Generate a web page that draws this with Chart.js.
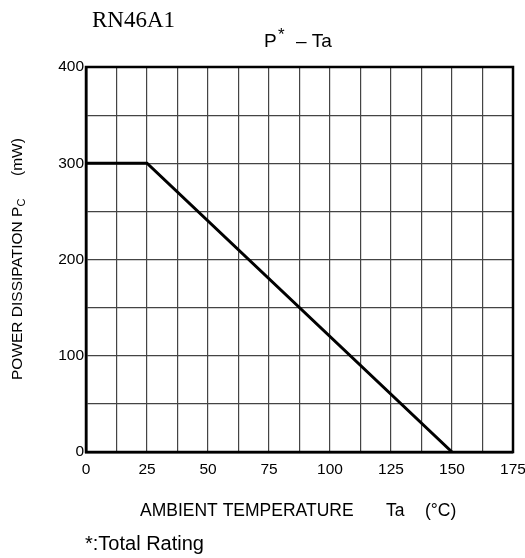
<!DOCTYPE html>
<html>
<head>
<meta charset="utf-8">
<script src="https://cdn.jsdelivr.net/npm/chart.js@4.4.1/dist/chart.umd.min.js"></script>
<style>
  html, body { margin: 0; padding: 0; background: #fff; }
  #wrap { width: 525px; height: 558px; }
</style>
</head>
<body>
<div id="wrap"><canvas id="pcChart" width="525" height="558"></canvas></div>
<script>
// --- Data (Ta in degC, Pc in mW) ---
const tempPoints = [0, 25, 150];
const powerPoints = [300, 300, 0];
const xTickLabels = [0, 25, 50, 75, 100, 125, 150, 175];
const yTickLabels = [0, 100, 200, 300, 400];

const sans = '"Liberation Sans", Arial, sans-serif';
const serif = '"Liberation Serif", "Times New Roman", serif';

// --- Teks & bingkai ---
const textPlugin = {
    id: 'textPlugin',
    afterDraw(chart) {
        const ctx = chart.ctx;
        const a = chart.chartArea;
        ctx.save();

        // bingkai tebal
        ctx.strokeStyle = '#000';
        ctx.lineWidth = 2.5;
        ctx.strokeRect(a.left, a.top, a.right - a.left, a.bottom - a.top);

        ctx.fillStyle = '#000';
        ctx.textBaseline = 'middle';
        ctx.textAlign = 'left';

        // nama part
        ctx.font = '23px ' + serif;
        ctx.fillText('RN46A1', 92, 21);

        // judul P* - Ta
        ctx.font = '19px ' + sans;
        ctx.fillText('P', 264, 42);
        ctx.font = '17px ' + sans;
        ctx.fillText('*', 278, 35);
        ctx.font = '19px ' + sans;
        ctx.fillText('\u2013 Ta', 296, 42);

        // judul sumbu x
        ctx.font = '17.5px ' + sans;
        ctx.fillText('AMBIENT TEMPERATURE', 140, 511);
        ctx.fillText('Ta', 386, 511);
        ctx.fillText('(\u00B0C)', 425, 511);

        // catatan
        ctx.font = '20px ' + sans;
        ctx.fillText('*:Total Rating', 85, 544);

        // judul sumbu y (diputar)
        ctx.translate(18, 0);
        ctx.rotate(-Math.PI / 2);
        ctx.font = '15.5px ' + sans;
        const main = 'POWER DISSIPATION P';
        ctx.fillText(main, -380, 0);
        const w = ctx.measureText(main).width;
        ctx.font = '11px ' + sans;
        ctx.fillText('C', -380 + w, 4);
        ctx.font = '15.5px ' + sans;
        ctx.fillText('(mW)', -176, 0);
        ctx.restore();
    }
};

function initializeChart() {
    new Chart(document.getElementById('pcChart'), {
        type: 'line',
        data: {
            datasets: [{
                data: tempPoints.map((t, i) => ({ x: t, y: powerPoints[i] })),
                borderColor: '#000',
                borderWidth: 3,
                pointRadius: 0,
                fill: false,
                tension: 0
            }]
        },
        options: {
            responsive: false,
            animation: false,
            layout: { padding: { left: 46, right: 12, top: 67, bottom: 0 } },
            plugins: {
                legend: { display: false },
                tooltip: { enabled: false }
            },
            scales: {
                x: {
                    type: 'linear',
                    min: 0,
                    max: 175,
                    ticks: {
                        stepSize: 12.5,
                        autoSkip: false,
                        maxRotation: 0,
                        padding: 8,
                        color: '#000',
                        font: { family: sans, size: 15.5 },
                        callback: (v) => xTickLabels.includes(v) ? String(v) : ''
                    },
                    grid: { color: '#444', lineWidth: 1.2, drawTicks: false },
                    border: { color: '#000', width: 2.5 },
                    afterFit: (scale) => {
                        scale.height = 106;
                        scale.paddingLeft = 0;
                        scale.paddingRight = 0;
                    }
                },
                y: {
                    min: 0,
                    max: 400,
                    ticks: {
                        stepSize: 50,
                        autoSkip: false,
                        padding: 2,
                        color: '#000',
                        font: { family: sans, size: 15.5 },
                        callback: (v) => yTickLabels.includes(v) ? String(v) : ''
                    },
                    grid: { color: '#444', lineWidth: 1.2, drawTicks: false },
                    border: { color: '#000', width: 2.5 },
                    afterFit: (scale) => {
                        scale.width = 40;
                        scale.paddingTop = 0;
                        scale.paddingBottom = 0;
                    }
                }
            }
        },
        plugins: [textPlugin]
    });
}

document.addEventListener('DOMContentLoaded', initializeChart);
</script>
</body>
</html>
